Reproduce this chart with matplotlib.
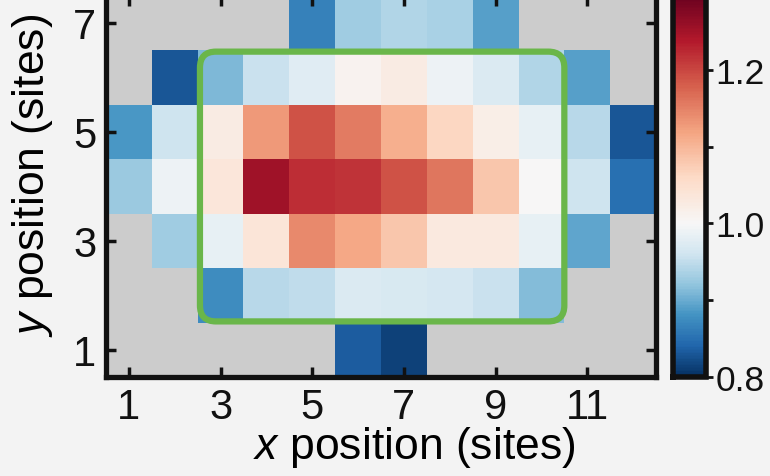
import numpy as np
import matplotlib
matplotlib.use('Agg')
import matplotlib.pyplot as plt
from matplotlib.colors import ListedColormap
from matplotlib.patches import FancyBboxPatch
from matplotlib.ticker import FixedLocator

plt.rcParams['font.family'] = 'Liberation Sans'
plt.rcParams['mathtext.fontset'] = 'custom'
plt.rcParams['mathtext.it'] = 'Liberation Sans:italic'
plt.rcParams['mathtext.rm'] = 'Liberation Sans'

nan = np.nan
x_sites = np.arange(1, 13)
y_sites = np.arange(1, 8)
# one row per y site, from y = 1 (bottom) up to y = 7; nan = empty site
density_ratio = [
    [nan, nan, nan, nan, nan, 0.835, 0.815, nan, nan, nan, nan, nan],
    [nan, nan, 0.875, 0.945, 0.95, 0.97, 0.968, 0.965, 0.955, 0.915, nan, nan],
    [nan, 0.93, 0.985, 1.04, 1.145, 1.115, 1.085, 1.03, 1.03, 0.985, 0.895, nan],
    [0.925, 0.99, 1.035, 1.255, 1.22, 1.215, 1.19, 1.16, 1.085, 1.0, 0.96, 0.85],
    [0.885, 0.96, 1.025, 1.13, 1.19, 1.155, 1.11, 1.065, 1.02, 0.985, 0.945, 0.83],
    [nan, 0.83, 0.91, 0.956, 0.976, 1.01, 1.025, 0.99, 0.97, 0.94, 0.89, nan],
    [nan, nan, nan, nan, 0.865, 0.93, 0.94, 0.935, 0.89, nan, nan, nan],
]
x_ticks = [1, 3, 5, 7, 9, 11]
y_ticks = [1, 3, 5, 7]
cbar_ticks = [0.8, 1.0, 1.2]
cbar_labels = ['0.8', '1.0', '1.2']
cbar_minor = [0.9, 1.1]
vmin, vcenter, vmax = 0.8, 1.0, 1.3

# RdBu_r with white at 1.0, but a linear colour bar
base = plt.get_cmap('RdBu_r')
v = np.linspace(vmin, vmax, 256)
t = np.where(v < vcenter,
             0.5 * (v - vmin) / (vcenter - vmin),
             0.5 + 0.5 * (v - vcenter) / (vmax - vcenter))
cmap = ListedColormap(base(t))
cmap.set_bad('#cccccc')

W, H = 770, 477
fig = plt.figure(figsize=(W / 100, H / 100), dpi=100)
fig.patch.set_facecolor('#f3f3f3')
ax = fig.add_axes([106 / W, (H - 378) / H, 550 / W, (378 + 3.5) / H])
cax = fig.add_axes([673 / W, (H - 378) / H, 32.5 / W, (378 + 6) / H])

data = np.ma.masked_invalid(np.array(density_ratio))
ax.set_facecolor('#cccccc')
im = ax.pcolormesh(x_sites, y_sites, data, cmap=cmap, vmin=vmin, vmax=vmax,
                   shading='nearest')

# green region of interest
box = FancyBboxPatch((2.55, 1.52), 10.5 - 2.55, 6.47 - 1.52,
                     boxstyle='round,pad=0,rounding_size=0.35',
                     mutation_aspect=0.84, ec='#6ab64a', fc='none', lw=4.5, zorder=3)
ax.add_patch(box)

ax.set_xlim(0.5, 12.5)
ax.set_ylim(0.5, 7.5)
ax.set_xticks(x_ticks)
ax.set_yticks(y_ticks)
ax.tick_params(direction='in', length=7.5, width=2.5, top=True, right=True,
               labelsize=30, pad=7, colors='#111111')
for s in ax.spines.values():
    s.set_linewidth(3.8)
    s.set_color('#111111')
ax.set_xlabel(r'$x$ position (sites)', fontsize=32)
ax.set_ylabel(r'$y$ position (sites)', fontsize=32)
ax.xaxis.set_label_coords(0.56, -0.1245)
ax.yaxis.set_label_coords(-0.093, 0.532)

cb = fig.colorbar(im, cax=cax, ticks=cbar_ticks)
cb.ax.yaxis.set_minor_locator(FixedLocator(cbar_minor))
cb.ax.set_yticklabels(cbar_labels)
cb.outline.set_linewidth(4)
cb.outline.set_edgecolor('#111111')
cax.tick_params(which='both', direction='out', length=5, width=2, labelsize=25.5,
                pad=2, colors='#111111')

fig.savefig('out.png', dpi=100, facecolor=fig.get_facecolor())
